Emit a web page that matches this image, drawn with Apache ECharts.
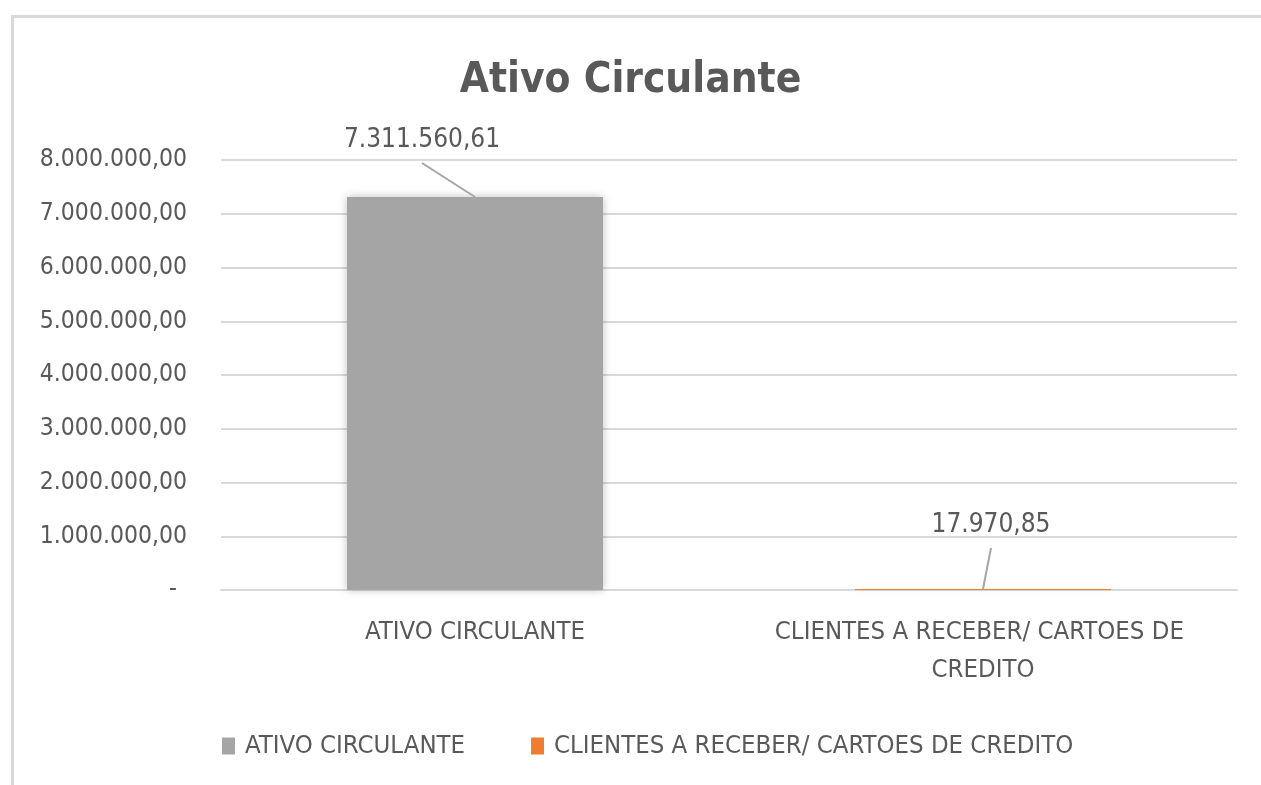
<!DOCTYPE html>
<html>
<head>
<meta charset="utf-8">
<script src="https://cdn.jsdelivr.net/npm/echarts@6/dist/echarts.min.js"></script>
<style>
html,body{margin:0;padding:0;background:#fff;}
#chart{width:1261px;height:785px;}
</style>
</head>
<body>
<div id="chart"></div>
<script>
const categories = ['ATIVO CIRCULANTE', 'CLIENTES A RECEBER/ CARTOES DE CREDITO'];
const seriesNames = ['ATIVO CIRCULANTE', 'CLIENTES A RECEBER/ CARTOES DE CREDITO'];
const ativoValues = [7311560.61, null];
const clientesValues = [null, 17970.85];
const yTicks = { min: 0, max: 8000000, interval: 1000000 };

// data label placement (pixel offsets of the callout from the bar top)
const labelOffsets = [[-53, -57], [8, -64]];

const FONT = '"Liberation Sans Narrow", "DejaVu Sans Condensed", "Liberation Sans", sans-serif';
const TXT = '#595959';

function fmtBR(v) {
  return Number(v).toLocaleString('pt-BR', { minimumFractionDigits: 2, maximumFractionDigits: 2 });
}

const labelData = categories.map(function (c, i) {
  const v = ativoValues[i] != null ? ativoValues[i] : clientesValues[i];
  return [i, v];
});

const chart = echarts.init(document.getElementById('chart'), null, { renderer: 'canvas' });
chart.setOption({
  backgroundColor: '#ffffff',
  animation: false,
  title: {
    text: 'Ativo Circulante',
    left: 'center',
    top: 55,
    textStyle: { fontFamily: FONT, fontSize: 42, fontWeight: 'bold', color: TXT }
  },
  graphic: [{
    type: 'rect',
    shape: { x: 12.5, y: 16.5, width: 1300, height: 800 },
    style: { fill: 'none', stroke: '#D9D9D9', lineWidth: 3 },
    silent: true, z: -1
  }],
  legend: {
    top: 733,
    left: 222,
    padding: 0,
    itemWidth: 13,
    itemHeight: 17,
    itemGap: 66,
    icon: 'rect',
    textStyle: { fontFamily: FONT, fontSize: 25.5, color: TXT, padding: [0, 0, 0, 5] },
    data: seriesNames
  },
  grid: { left: 221, right: 24, top: 160, bottom: 195, containLabel: false },
  xAxis: {
    type: 'category',
    data: categories,
    axisLine: { show: true, lineStyle: { color: '#D9D9D9', width: 2 } },
    axisTick: { show: false },
    axisLabel: {
      fontFamily: FONT, fontSize: 25.5, color: TXT, margin: 23,
      lineHeight: 38, width: 450, overflow: 'break', interval: 0
    }
  },
  yAxis: {
    type: 'value',
    min: yTicks.min, max: yTicks.max, interval: yTicks.interval,
    axisLine: { show: false },
    axisTick: { show: false },
    splitLine: { lineStyle: { color: '#D9D9D9', width: 2 } },
    axisLabel: {
      fontFamily: FONT, fontSize: 24.5, color: TXT, margin: 34,
      formatter: function (v) { return v === 0 ? '{z|-}' : fmtBR(v); },
      rich: { z: { fontFamily: FONT, fontSize: 24.5, color: TXT, padding: [0, 10, 0, 0] } }
    }
  },
  series: [
    {
      name: seriesNames[0],
      type: 'bar',
      stack: 'total',
      data: ativoValues,
      barWidth: 256,
      itemStyle: { color: '#A5A5A5', shadowBlur: 8, shadowColor: 'rgba(0,0,0,0.25)' }
    },
    {
      name: seriesNames[1],
      type: 'bar',
      stack: 'total',
      data: clientesValues,
      barWidth: 256,
      itemStyle: { color: '#ED7D31', shadowBlur: 8, shadowColor: 'rgba(0,0,0,0.15)' }
    },
    {
      name: 'labels',
      type: 'custom',
      data: labelData,
      z: 10,
      silent: true,
      renderItem: function (params, api) {
        const i = api.value(0);
        const p = api.coord([i, api.value(1)]);
        const off = labelOffsets[params.dataIndex];
        const lx = p[0] + off[0], ly = p[1] + off[1];
        return {
          type: 'group',
          children: [
            {
              type: 'line',
              shape: { x1: p[0], y1: p[1], x2: lx, y2: ly + 23 },
              style: { stroke: '#A6A6A6', lineWidth: 2 }
            },
            {
              type: 'text',
              x: lx, y: ly,
              style: {
                text: fmtBR(api.value(1)),
                fontFamily: FONT, fontSize: 26, fill: TXT,
                align: 'center', verticalAlign: 'middle'
              }
            }
          ]
        };
      }
    }
  ]
});
</script>
</body>
</html>
